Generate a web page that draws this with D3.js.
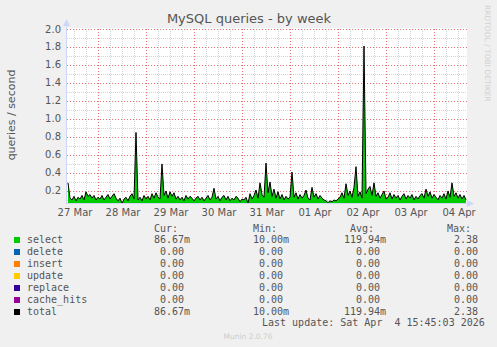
<!DOCTYPE html>
<html>
<head>
<meta charset="utf-8">
<script src="https://cdn.jsdelivr.net/npm/d3@7/dist/d3.min.js"></script>
<style>
  body { margin: 0; background: #F0F0F0; }
  svg { display: block; font-family: "DejaVu Sans", sans-serif; }
  .mono text { font-family: "DejaVu Sans Mono", monospace; white-space: pre; }
</style>
</head>
<body>
<div id="chart"></div>
<script>
// data, one value per hour, starting 27 Mar 08:30
const startTime = new Date(2026, 2, 27, 8, 30);
const selectValues = [
  0.29, 0.12, 0.10, 0.14, 0.09, 0.13, 0.11, 0.15, 0.10, 0.19, 0.14, 0.16, 0.12, 0.15, 0.10, 0.13,
  0.11, 0.15, 0.10, 0.13, 0.16, 0.11, 0.14, 0.17, 0.12, 0.09, 0.12, 0.06, 0.11, 0.13, 0.09, 0.14, 0.17, 0.11, 0.85, 0.10, 0.13, 0.09, 0.15, 0.11,
  0.14, 0.10, 0.17, 0.12, 0.18, 0.13, 0.11, 0.50, 0.15, 0.20, 0.12, 0.19, 0.14, 0.18, 0.11, 0.14, 0.10, 0.13, 0.09, 0.15, 0.11, 0.14, 0.12, 0.09,
  0.12, 0.14, 0.10, 0.13, 0.09, 0.12, 0.15, 0.10, 0.13, 0.23, 0.11, 0.14, 0.09, 0.13, 0.15, 0.10, 0.14, 0.09, 0.12, 0.10, 0.14, 0.12, 0.08, 0.11,
  0.10, 0.13, 0.06, 0.17, 0.11, 0.15, 0.21, 0.12, 0.29, 0.16, 0.13, 0.51, 0.18, 0.30, 0.14, 0.22, 0.12, 0.19, 0.11, 0.16, 0.10, 0.14, 0.11, 0.13,
  0.41, 0.13, 0.18, 0.11, 0.16, 0.12, 0.15, 0.21, 0.12, 0.10, 0.24, 0.13, 0.17, 0.11, 0.15, 0.12, 0.10, 0.09, 0.07, 0.09, 0.08, 0.10, 0.09, 0.11,
  0.13, 0.18, 0.12, 0.28, 0.15, 0.20, 0.13, 0.24, 0.47, 0.14, 0.19, 0.12, 1.81, 0.17, 0.22, 0.25, 0.15, 0.29, 0.14, 0.18, 0.12, 0.16, 0.20, 0.11,
  0.13, 0.18, 0.11, 0.16, 0.12, 0.15, 0.10, 0.14, 0.17, 0.11, 0.15, 0.12, 0.16, 0.10, 0.14, 0.11, 0.15, 0.17, 0.12, 0.22, 0.14, 0.19, 0.12, 0.16,
  0.13, 0.10, 0.15, 0.12, 0.17, 0.11, 0.20, 0.13, 0.29, 0.14, 0.18, 0.12, 0.16, 0.11, 0.15, 0.10
];

const yTicks = [0.2, 0.4, 0.6, 0.8, 1.0, 1.2, 1.4, 1.6, 1.8, 2.0];
const dayLabels = ['27 Mar', '28 Mar', '29 Mar', '30 Mar', '31 Mar', '01 Apr', '02 Apr', '03 Apr', '04 Apr'];

const legendNames = ['select', 'delete', 'insert', 'update', 'replace', 'cache_hits', 'total'];
const legendColors = ['#00CC00', '#0066B3', '#FF8000', '#FFCC00', '#330099', '#990099', '#000000'];
const curValues = ['86.67m', ' 0.00', ' 0.00', ' 0.00', ' 0.00', ' 0.00', '86.67m'];
const minValues = ['10.00m', ' 0.00', ' 0.00', ' 0.00', ' 0.00', ' 0.00', '10.00m'];
const avgValues = ['119.94m', '  0.00', '  0.00', '  0.00', '  0.00', '  0.00', '119.94m'];
const maxValues = ['2.38', '0.00', '0.00', '0.00', '0.00', '0.00', '2.38'];

const width = 497;
const height = 347;
const plotLeft = 67, plotRight = 467, plotTop = 29, plotBottom = 203;
const HOUR = 3600 * 1000;

const svg = d3.select('#chart')
  .append('svg')
  .attr('width', width)
  .attr('height', height);

svg.append('rect').attr('width', width).attr('height', height).attr('fill', '#F0F0F0');

const x = d3.scaleTime()
  .domain([startTime, new Date(+startTime + selectValues.length * HOUR)])
  .range([plotLeft, plotRight]);

const y = d3.scaleLinear()
  .domain([0.066, 2.0])
  .range([plotBottom, plotTop]);

// canvas
svg.append('rect')
  .attr('x', plotLeft).attr('y', plotTop - 1)
  .attr('width', plotRight - plotLeft).attr('height', plotBottom - plotTop + 1)
  .attr('fill', '#FFFFFF');

const grid = svg.append('g').attr('shape-rendering', 'crispEdges');
const minorColor = '#D4D4D4';
const majorColor = '#EC7070';

// minor horizontal grid
d3.range(1, 20).forEach(k => {
  if (k % 2 === 0) return;
  const yy = Math.round(y(k / 10)) + 0.5;
  grid.append('line')
    .attr('x1', plotLeft).attr('x2', plotRight)
    .attr('y1', yy).attr('y2', yy)
    .attr('stroke', minorColor).attr('stroke-dasharray', '1,1');
});

// minor vertical grid every 6 hours
d3.timeHour.every(6).range(x.domain()[0], x.domain()[1]).forEach(t => {
  if (t.getHours() === 0) return;
  const xx = Math.round(x(t)) + 0.5;
  grid.append('line')
    .attr('x1', xx).attr('x2', xx)
    .attr('y1', plotTop).attr('y2', plotBottom)
    .attr('stroke', minorColor).attr('stroke-dasharray', '1,1');
});

// major grid
yTicks.forEach(v => {
  const yy = Math.round(y(v)) + 0.5;
  grid.append('line')
    .attr('x1', plotLeft).attr('x2', plotRight)
    .attr('y1', yy).attr('y2', yy)
    .attr('stroke', majorColor).attr('stroke-dasharray', '1,2');
});
d3.timeDay.range(x.domain()[0], x.domain()[1]).forEach(t => {
  const xx = Math.round(x(t)) + 0.5;
  grid.append('line')
    .attr('x1', xx).attr('x2', xx)
    .attr('y1', plotTop).attr('y2', plotBottom)
    .attr('stroke', majorColor).attr('stroke-dasharray', '1,2');
});

// data
const points = selectValues.map((v, i) => ({ t: new Date(+startTime + i * HOUR + HOUR / 2), v }));

svg.append('clipPath').attr('id', 'clip')
  .append('rect')
  .attr('x', plotLeft).attr('y', plotTop - 2)
  .attr('width', plotRight - plotLeft).attr('height', plotBottom - plotTop + 2);

const plot = svg.append('g').attr('clip-path', 'url(#clip)');

plot.append('path')
  .datum(points)
  .attr('fill', '#00CC00')
  .attr('d', d3.area().x(d => x(d.t)).y0(plotBottom + 5).y1(d => y(d.v)));

plot.append('path')
  .datum(points)
  .attr('fill', 'none')
  .attr('stroke', '#000000')
  .attr('stroke-width', 1)
  .attr('d', d3.line().x(d => x(d.t)).y(d => y(d.v)));

// axes with arrows
const axisColor = '#CFD6F8';
svg.append('line')
  .attr('x1', plotLeft - 0.5).attr('x2', plotLeft - 0.5)
  .attr('y1', plotBottom + 1).attr('y2', plotTop - 6)
  .attr('stroke', axisColor);
svg.append('path')
  .attr('d', `M${plotLeft - 4},${plotTop - 3} L${plotLeft - 0.5},${plotTop - 10} L${plotLeft + 3},${plotTop - 3} Z`)
  .attr('fill', axisColor);
svg.append('line')
  .attr('x1', plotLeft - 1).attr('x2', plotRight + 4)
  .attr('y1', plotBottom + 0.5).attr('y2', plotBottom + 0.5)
  .attr('stroke', axisColor);
svg.append('path')
  .attr('d', `M${plotRight},${plotBottom - 3} L${plotRight + 7},${plotBottom + 0.5} L${plotRight},${plotBottom + 4} Z`)
  .attr('fill', axisColor);

// y tick labels
svg.selectAll('.ylab')
  .data(yTicks)
  .enter()
  .append('text')
  .attr('x', 61)
  .attr('y', d => y(d) + 3.5)
  .attr('text-anchor', 'end')
  .attr('font-size', 10)
  .attr('fill', '#555')
  .text(d => d.toFixed(1));

// x tick labels at midday
const middays = dayLabels.map((lab, i) => new Date(2026, 2, 27 + i, 12, 0));
svg.selectAll('.xlab')
  .data(middays)
  .enter()
  .append('text')
  .attr('x', d => x(d) + 1)
  .attr('y', 216)
  .attr('text-anchor', 'middle')
  .attr('font-size', 10)
  .attr('fill', '#555')
  .text((d, i) => dayLabels[i]);

// titles
svg.append('text')
  .attr('x', 249).attr('y', 23)
  .attr('text-anchor', 'middle')
  .attr('font-size', 13)
  .attr('fill', '#555')
  .text('MySQL queries - by week');

svg.append('text')
  .attr('transform', 'translate(15,115) rotate(-90)')
  .attr('text-anchor', 'middle')
  .attr('font-size', 11)
  .attr('fill', '#555')
  .text('queries / second');

svg.append('text')
  .attr('transform', 'translate(485,5) rotate(90)')
  .attr('font-size', 7.5)
  .attr('fill', '#D0D0D0')
  .text('RRDTOOL / TOBI OETIKER');

// legend
const legend = svg.append('g').attr('class', 'mono').attr('font-size', 10).attr('fill', '#555');
[['Cur:', 154], ['Min:', 253], ['Avg:', 350], ['Max:', 447]].forEach(([t, px]) => {
  legend.append('text').attr('x', px).attr('y', 231.5).text(t);
});

const rows = legend.selectAll('.row')
  .data(legendNames)
  .enter()
  .append('g')
  .attr('transform', (d, i) => `translate(0, ${243 + 12 * i})`);

rows.append('rect')
  .attr('x', 14).attr('y', -6)
  .attr('width', 6).attr('height', 6)
  .attr('fill', (d, i) => legendColors[i]);

rows.append('text').attr('x', 27).text(d => d);
rows.append('text').attr('x', 154).attr('xml:space', 'preserve').text((d, i) => curValues[i]);
rows.append('text').attr('x', 253).attr('xml:space', 'preserve').text((d, i) => minValues[i]);
rows.append('text').attr('x', 344).attr('xml:space', 'preserve').text((d, i) => avgValues[i]);
rows.append('text').attr('x', 454).attr('xml:space', 'preserve').text((d, i) => maxValues[i]);

legend.append('text')
  .attr('x', 262).attr('y', 326)
  .attr('xml:space', 'preserve')
  .text('Last update: Sat Apr  4 15:45:03 2026');

svg.append('text')
  .attr('x', 248).attr('y', 339)
  .attr('text-anchor', 'middle')
  .attr('font-size', 7.5)
  .attr('fill', '#CCCCCC')
  .text('Munin 2.0.76');
</script>
</body>
</html>
